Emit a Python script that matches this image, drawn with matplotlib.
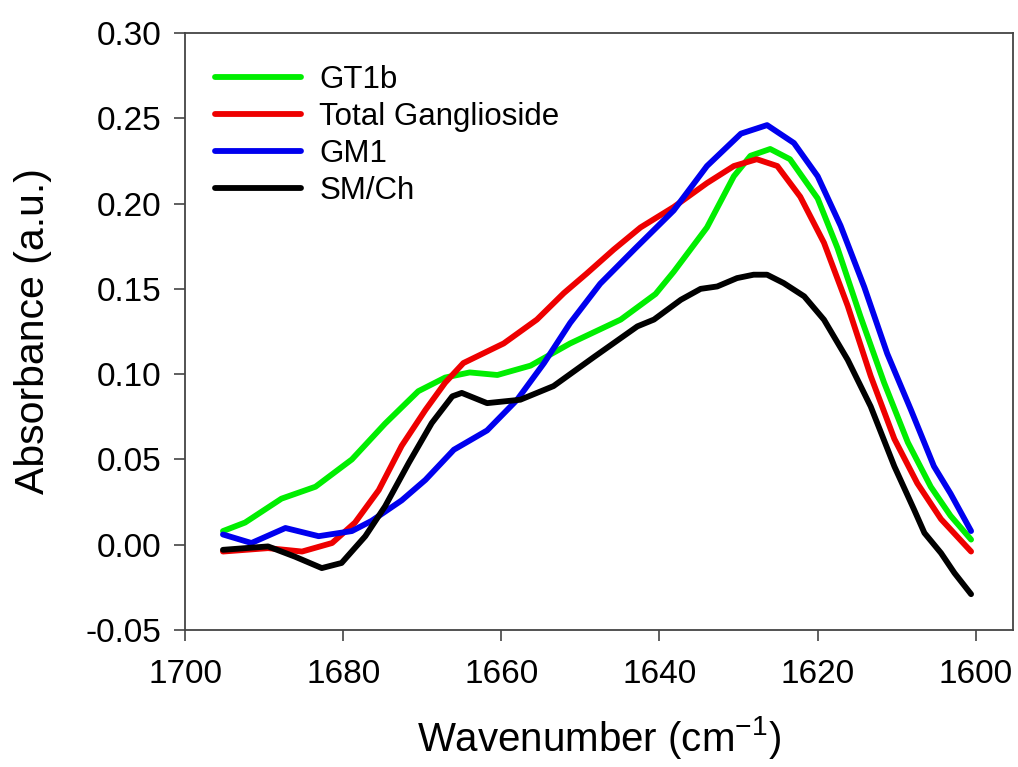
import matplotlib
matplotlib.use("Agg")
import matplotlib.pyplot as plt

plt.rcParams['font.family'] = ['Liberation Sans', 'DejaVu Sans']
plt.rcParams['mathtext.default'] = 'regular'

# ---- data ----
gt1b_x = [1695.2, 1692.4, 1687.8, 1683.5, 1678.9, 1674.7, 1670.5, 1667.1, 1664.0,
          1660.5, 1656.3, 1651.3, 1644.9, 1640.5, 1638.2, 1634.0, 1630.6, 1628.5,
          1626.0, 1623.5, 1620.0, 1617.5, 1614.6, 1611.6, 1608.6, 1605.7, 1603.2, 1600.6]
gt1b_y = [0.008, 0.013, 0.027, 0.034, 0.050, 0.071, 0.090, 0.098, 0.101,
          0.0995, 0.105, 0.118, 0.132, 0.147, 0.160, 0.186, 0.216, 0.228,
          0.232, 0.226, 0.203, 0.174, 0.134, 0.095, 0.060, 0.034, 0.017, 0.003]

total_x = [1695.2, 1689.5, 1685.2, 1681.4, 1678.5, 1675.5, 1672.6, 1669.6, 1667.1,
           1664.8, 1659.7, 1655.5, 1652.1, 1649.2, 1645.8, 1642.4, 1638.2, 1634.0,
           1630.6, 1627.7, 1625.1, 1622.2, 1619.2, 1616.2, 1613.3, 1610.3, 1607.4,
           1604.4, 1600.6]
total_y = [-0.004, -0.002, -0.004, 0.001, 0.013, 0.032, 0.058, 0.079, 0.095,
           0.1065, 0.118, 0.132, 0.1475, 0.159, 0.173, 0.186, 0.198, 0.212,
           0.222, 0.226, 0.222, 0.204, 0.177, 0.140, 0.099, 0.062, 0.036,
           0.015, -0.004]

gm1_x = [1695.2, 1691.6, 1687.3, 1683.1, 1678.9, 1676.4, 1672.6, 1669.6, 1666.0,
         1661.8, 1658.0, 1654.6, 1651.3, 1647.5, 1643.0, 1638.2, 1634.0, 1629.7,
         1626.4, 1623.0, 1620.0, 1617.1, 1614.1, 1611.2, 1608.2, 1605.3, 1603.2, 1600.6]
gm1_y = [0.006, 0.001, 0.0098, 0.005, 0.008, 0.014, 0.026, 0.038, 0.0557,
         0.067, 0.085, 0.1065, 0.130, 0.153, 0.174, 0.196, 0.222, 0.241,
         0.246, 0.2355, 0.216, 0.187, 0.151, 0.112, 0.079, 0.046, 0.030, 0.008]

smch_x = [1695.2, 1689.5, 1686.1, 1682.7, 1680.2, 1677.2, 1674.7, 1671.7, 1668.8,
          1666.2, 1665.0, 1661.8, 1657.6, 1653.4, 1648.3, 1642.8, 1640.7, 1637.3,
          1634.8, 1632.7, 1630.2, 1628.1, 1626.4, 1624.3, 1621.7, 1619.2, 1616.2,
          1613.3, 1610.3, 1607.8, 1606.5, 1604.4, 1602.7, 1600.6]
smch_y = [-0.003, -0.001, -0.007, -0.0137, -0.0107, 0.005, 0.0225, 0.048, 0.0713,
          0.087, 0.089, 0.083, 0.085, 0.093, 0.110, 0.128, 0.132, 0.1436,
          0.150, 0.1514, 0.1563, 0.1583, 0.1583, 0.1534, 0.1456, 0.1319, 0.1084,
          0.0811, 0.0459, 0.0205, 0.0069, -0.0049, -0.0166, -0.029]

labels = ["GT1b", "Total Ganglioside", "GM1", "SM/Ch"]
colors = ["#00ee00", "#ee0000", "#0000ee", "#000000"]

x_ticks = [1700, 1680, 1660, 1640, 1620, 1600]
y_ticks = [-0.05, 0.00, 0.05, 0.10, 0.15, 0.20, 0.25, 0.30]

# ---- figure ----
fig = plt.figure(figsize=(10.18, 7.67), dpi=100)
ax = fig.add_axes([185/1018, 1 - 630/767, (1013-185)/1018, (630-33)/767])

series = [(gt1b_x, gt1b_y), (total_x, total_y), (gm1_x, gm1_y), (smch_x, smch_y)]
for (xs, ys), lab, col in zip(series, labels, colors):
    ax.plot(xs, ys, color=col, lw=4.2, label=lab, solid_joinstyle='round',
            solid_capstyle='round')

ax.set_xlim(1700, 1595.3)
ax.set_ylim(-0.05, 0.30)
ax.set_xticks(x_ticks)
ax.set_yticks(y_ticks)
ax.set_yticklabels([f"{v:.2f}" for v in y_ticks])
ax.set_xticklabels([str(v) for v in x_ticks])

for sp in ax.spines.values():
    sp.set_color('#444444')
    sp.set_linewidth(1.3)
ax.tick_params(axis='both', which='major', direction='out', length=8, width=1.2,
               color='#444444', labelsize=24, top=False, right=False)
ax.tick_params(axis='y', pad=9)
ax.tick_params(axis='x', pad=13)

ax.set_xlabel("Wavenumber (cm$^{-1}$)", fontsize=29, labelpad=17)
ax.set_ylabel("Absorbance (a.u.)", fontsize=29.5, labelpad=24)

leg = ax.legend(loc='upper left', bbox_to_anchor=(0.036, 0.946), frameon=False,
                fontsize=22.5, handlelength=2.75, handletextpad=0.6,
                labelspacing=0.22, borderpad=0, borderaxespad=0)

fig.savefig("out.png", dpi=100)
